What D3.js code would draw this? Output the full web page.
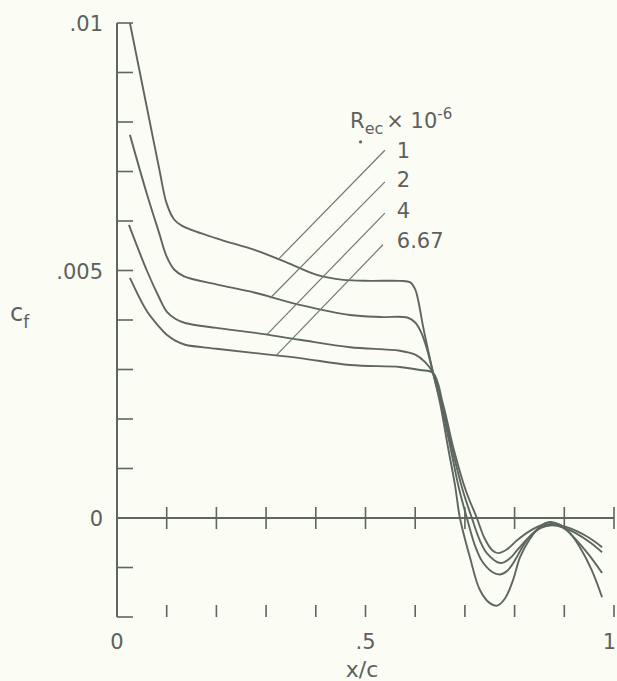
<!DOCTYPE html>
<html>
<head>
<meta charset="utf-8">
<script src="https://cdn.jsdelivr.net/npm/d3@7"></script>
<style>
  html, body { margin: 0; padding: 0; background: #fbfcf4; }
  svg { display: block; }
  text { font-family: "DejaVu Sans", "Liberation Sans", sans-serif; fill: #5e615e; }
</style>
</head>
<body>
<svg id="chart" width="617" height="681"></svg>
<script>
// ---- data (x = x/c, y = cf in units of 0.001) ----
const seriesNames = ["1", "2", "4", "6.67"];

const cfRe1 = [[0.026,10.0],[0.045,9.05],[0.065,8.05],[0.085,7.05],[0.100,6.35],[0.115,6.03],[0.131,5.90],[0.200,5.65],[0.278,5.41],[0.340,5.17],[0.402,4.91],[0.455,4.81],[0.510,4.79],[0.569,4.79],[0.590,4.76],[0.600,4.62],[0.607,4.35],[0.616,3.86],[0.636,2.93],[0.650,2.32],[0.666,1.43],[0.680,0.67],[0.690,0.0],[0.710,-0.79],[0.730,-1.45],[0.750,-1.72],[0.765,-1.77],[0.781,-1.62],[0.797,-1.25],[0.811,-0.79],[0.831,-0.42],[0.851,-0.17],[0.871,-0.08],[0.890,-0.13],[0.911,-0.30],[0.932,-0.60],[0.955,-1.05],[0.976,-1.60]];

const cfRe2 = [[0.026,7.74],[0.060,6.55],[0.085,5.75],[0.100,5.28],[0.115,5.02],[0.135,4.88],[0.200,4.72],[0.278,4.55],[0.370,4.30],[0.469,4.10],[0.530,4.06],[0.584,4.05],[0.600,3.95],[0.612,3.75],[0.624,3.40],[0.636,2.93],[0.652,2.30],[0.672,1.37],[0.688,0.60],[0.704,0.0],[0.720,-0.55],[0.735,-0.88],[0.755,-1.09],[0.771,-1.14],[0.786,-1.06],[0.801,-0.85],[0.816,-0.58],[0.831,-0.37],[0.853,-0.19],[0.875,-0.13],[0.898,-0.20],[0.922,-0.42],[0.950,-0.75],[0.976,-1.11]];

const cfRe4 = [[0.024,5.92],[0.060,5.00],[0.085,4.45],[0.100,4.17],[0.118,4.02],[0.137,3.94],[0.200,3.84],[0.278,3.74],[0.368,3.60],[0.469,3.45],[0.569,3.38],[0.600,3.30],[0.620,3.15],[0.636,2.93],[0.654,2.30],[0.675,1.37],[0.696,0.55],[0.714,0.0],[0.730,-0.45],[0.745,-0.72],[0.771,-0.91],[0.790,-0.82],[0.806,-0.64],[0.831,-0.37],[0.853,-0.20],[0.875,-0.15],[0.900,-0.20],[0.922,-0.30],[0.950,-0.48],[0.976,-0.69]];

const cfRe667 = [[0.026,4.85],[0.060,4.18],[0.085,3.86],[0.100,3.70],[0.118,3.58],[0.137,3.50],[0.200,3.42],[0.278,3.33],[0.368,3.23],[0.469,3.09],[0.569,3.05],[0.610,2.99],[0.636,2.93],[0.656,2.30],[0.678,1.37],[0.702,0.55],[0.724,0.0],[0.740,-0.42],[0.755,-0.65],[0.767,-0.71],[0.785,-0.63],[0.805,-0.45],[0.831,-0.26],[0.853,-0.15],[0.875,-0.12],[0.900,-0.17],[0.922,-0.25],[0.950,-0.40],[0.976,-0.59]];

// leader lines: [legendX, legendY, curveX, curveY]
const leaderLines = [[0.539,7.43,0.324,5.22],[0.539,6.79,0.308,4.44],[0.539,6.16,0.302,3.71],[0.535,5.52,0.320,3.28]];
// legend label anchors [x, y]
const legendPos = [[0.563,7.27],[0.563,6.69],[0.563,6.06],[0.563,5.45]];

const yTickValues = [-2,-1,1,2,3,4,5,6,7,8,9,10];
const yTickLabels = [[10,".01"],[5,".005"],[0,"0"]];
const xTickValues = [0.1,0.2,0.3,0.4,0.5,0.6,0.7,0.8,0.9,1.0];
const xTickLabels = [[0,"0","middle"],[0.5,".5","middle"],[1,"1","end"]];

// ---- drawing ----
const svg = d3.select("#chart");
const x = d3.scaleLinear().domain([0,1]).range([117,614]);
const y = d3.scaleLinear().domain([-2,10]).range([617,23]);
const ink = "#5d665f";

const g = svg.append("g");

// y axis line
g.append("line").attr("x1",x(0)).attr("x2",x(0)).attr("y1",y(10)).attr("y2",y(-2))
  .attr("stroke",ink).attr("stroke-width",2);
// y ticks (pointing right)
g.selectAll(".yt").data(yTickValues).enter().append("line")
  .attr("x1",x(0)).attr("x2",x(0)+16).attr("y1",d=>y(d)).attr("y2",d=>y(d))
  .attr("stroke",ink).attr("stroke-width",1.6);
// zero line
g.append("line").attr("x1",x(0)).attr("x2",x(1)).attr("y1",y(0)).attr("y2",y(0))
  .attr("stroke",ink).attr("stroke-width",2);
// ticks on zero line
g.selectAll(".xt0").data(xTickValues).enter().append("line")
  .attr("x1",d=>x(d)).attr("x2",d=>x(d)).attr("y1",y(0)-11).attr("y2",y(0)+11)
  .attr("stroke",ink).attr("stroke-width",1.6);
// ticks along bottom
g.selectAll(".xtb").data(xTickValues).enter().append("line")
  .attr("x1",d=>x(d)).attr("x2",d=>x(d)).attr("y1",y(-2)-12).attr("y2",y(-2))
  .attr("stroke",ink).attr("stroke-width",1.6);

// tick labels
g.selectAll(".yl").data(yTickLabels).enter().append("text")
  .attr("x",x(0)-14).attr("y",d=>y(d[0])+8).attr("text-anchor","end")
  .attr("font-size",21).text(d=>d[1]);
g.selectAll(".xl").data(xTickLabels).enter().append("text")
  .attr("x",d=>d[2]==="end" ? x(d[0])+2 : x(d[0])).attr("y",649).attr("text-anchor",d=>d[2])
  .attr("font-size",21).text(d=>d[1]);

// axis titles
const cf = g.append("text").attr("x",10).attr("y",321).attr("font-size",24);
cf.append("tspan").text("c");
cf.append("tspan").attr("font-size",17).attr("dy",7).text("f");
g.append("text").attr("x",362).attr("y",677).attr("text-anchor","middle")
  .attr("font-size",22).text("x/c");

// curves
const line = d3.line().x(d=>x(d[0])).y(d=>y(d[1])).curve(d3.curveCatmullRom.alpha(0.5));
[cfRe1, cfRe2, cfRe4, cfRe667].forEach(s => {
  g.append("path").attr("d", line(s)).attr("fill","none")
    .attr("stroke",ink).attr("stroke-width",1.9).attr("stroke-linejoin","round");
});

// leader lines
g.selectAll(".ld").data(leaderLines).enter().append("line")
  .attr("x1",d=>x(d[0])).attr("y1",d=>y(d[1])).attr("x2",d=>x(d[2])).attr("y2",d=>y(d[3]))
  .attr("stroke","#6f7a72").attr("stroke-width",1.2);

// legend
const title = g.append("text").attr("x",x(0.469)).attr("y",y(7.88)).attr("font-size",21);
title.append("tspan").text("R");
title.append("tspan").attr("font-size",16).attr("dy",6).text("ec");
title.append("tspan").attr("dy",-6).attr("dx",3).text("× 10");
title.append("tspan").attr("font-size",15).attr("dy",-9).text("-6");
g.append("circle").attr("cx",x(0.49)).attr("cy",y(7.6)).attr("r",1.6).attr("fill",ink);

g.selectAll(".lg").data(legendPos).enter().append("text")
  .attr("x",d=>x(d[0])).attr("y",d=>y(d[1])).attr("font-size",21)
  .text((d,i)=>seriesNames[i]);
</script>
</body>
</html>
